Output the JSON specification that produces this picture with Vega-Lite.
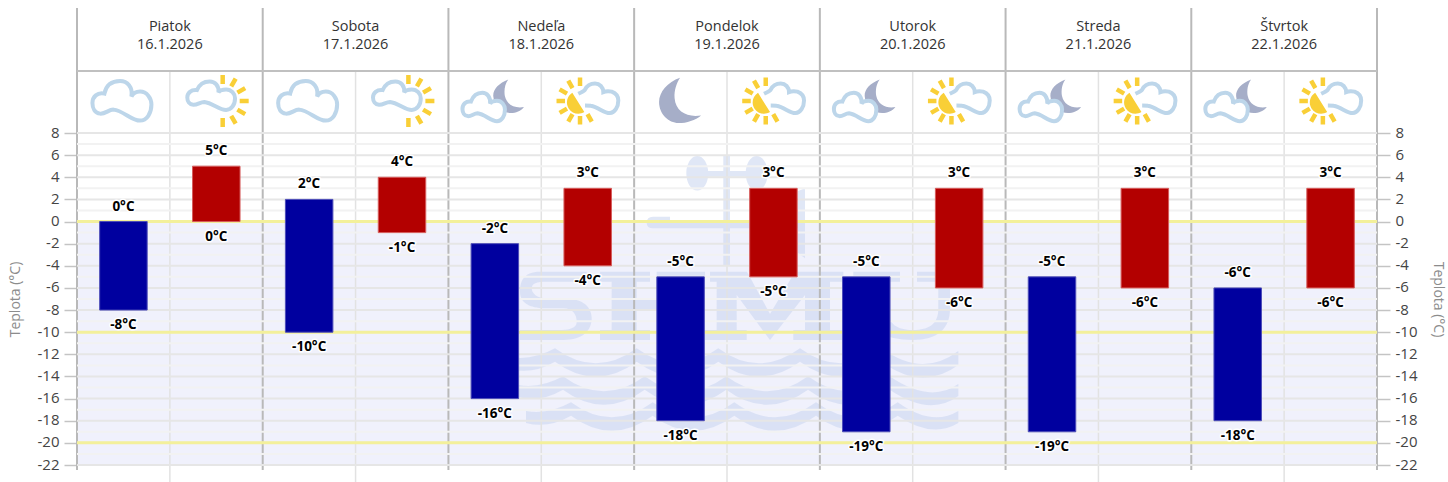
{
  "$schema": "https://vega.github.io/schema/vega-lite/v6.json",
  "autosize": "none",
  "width": 1300,
  "height": 332,
  "padding": {"left": 77, "top": 133, "right": 71, "bottom": 17},
  "background": "white",
  "datasets": {
    "bars": [
      {"slot": 0.5, "period": "noc", "max": 0, "min": -8, "maxLabel": "0°C", "minLabel": "-8°C"},
      {"slot": 1.5, "period": "den", "max": 5, "min": 0, "maxLabel": "5°C", "minLabel": "0°C"},
      {"slot": 2.5, "period": "noc", "max": 2, "min": -10, "maxLabel": "2°C", "minLabel": "-10°C"},
      {"slot": 3.5, "period": "den", "max": 4, "min": -1, "maxLabel": "4°C", "minLabel": "-1°C"},
      {"slot": 4.5, "period": "noc", "max": -2, "min": -16, "maxLabel": "-2°C", "minLabel": "-16°C"},
      {"slot": 5.5, "period": "den", "max": 3, "min": -4, "maxLabel": "3°C", "minLabel": "-4°C"},
      {"slot": 6.5, "period": "noc", "max": -5, "min": -18, "maxLabel": "-5°C", "minLabel": "-18°C"},
      {"slot": 7.5, "period": "den", "max": 3, "min": -5, "maxLabel": "3°C", "minLabel": "-5°C"},
      {"slot": 8.5, "period": "noc", "max": -5, "min": -19, "maxLabel": "-5°C", "minLabel": "-19°C"},
      {"slot": 9.5, "period": "den", "max": 3, "min": -6, "maxLabel": "3°C", "minLabel": "-6°C"},
      {"slot": 10.5, "period": "noc", "max": -5, "min": -19, "maxLabel": "-5°C", "minLabel": "-19°C"},
      {"slot": 11.5, "period": "den", "max": 3, "min": -6, "maxLabel": "3°C", "minLabel": "-6°C"},
      {"slot": 12.5, "period": "noc", "max": -6, "min": -18, "maxLabel": "-6°C", "minLabel": "-18°C"},
      {"slot": 13.5, "period": "den", "max": 3, "min": -6, "maxLabel": "3°C", "minLabel": "-6°C"}
    ],
    "days": [
      {"mid": 1, "name": "Piatok", "date": "16.1.2026"},
      {"mid": 3, "name": "Sobota", "date": "17.1.2026"},
      {"mid": 5, "name": "Nedeľa", "date": "18.1.2026"},
      {"mid": 7, "name": "Pondelok", "date": "19.1.2026"},
      {"mid": 9, "name": "Utorok", "date": "20.1.2026"},
      {"mid": 11, "name": "Streda", "date": "21.1.2026"},
      {"mid": 13, "name": "Štvrtok", "date": "22.1.2026"}
    ],
    "dayLines": [{"h": 0}, {"h": 2}, {"h": 4}, {"h": 6}, {"h": 8}, {"h": 10}, {"h": 12}, {"h": 14}],
    "halfLines": [{"h": 1}, {"h": 3}, {"h": 5}, {"h": 7}, {"h": 9}, {"h": 11}, {"h": 13}],
    "grid": [
      {"t": 8, "kind": "major"}, {"t": 7, "kind": "minor"}, {"t": 6, "kind": "major"}, {"t": 5, "kind": "minor"},
      {"t": 4, "kind": "major"}, {"t": 3, "kind": "minor"}, {"t": 2, "kind": "major"}, {"t": 1, "kind": "minor"},
      {"t": 0, "kind": "major"}, {"t": -1, "kind": "minor"}, {"t": -2, "kind": "major"}, {"t": -3, "kind": "minor"},
      {"t": -4, "kind": "major"}, {"t": -5, "kind": "minor"}, {"t": -6, "kind": "major"}, {"t": -7, "kind": "minor"},
      {"t": -8, "kind": "major"}, {"t": -9, "kind": "minor"}, {"t": -10, "kind": "major"}, {"t": -11, "kind": "minor"},
      {"t": -12, "kind": "major"}, {"t": -13, "kind": "minor"}, {"t": -14, "kind": "major"}, {"t": -15, "kind": "minor"},
      {"t": -16, "kind": "major"}, {"t": -17, "kind": "minor"}, {"t": -18, "kind": "major"}, {"t": -19, "kind": "minor"},
      {"t": -20, "kind": "major"}, {"t": -21, "kind": "minor"}, {"t": -22, "kind": "major"}
    ],
    "limits": [{"t": 0}, {"t": -10}, {"t": -20}],
    "fills": [
      {"slot": 4.5, "part": "moonSmall"}, {"slot": 6.5, "part": "moonBig"},
      {"slot": 8.5, "part": "moonSmall"}, {"slot": 10.5, "part": "moonSmall"}, {"slot": 12.5, "part": "moonSmall"},
      {"slot": 5.5, "part": "sunDisc"}, {"slot": 7.5, "part": "sunDisc"}, {"slot": 9.5, "part": "sunDisc"},
      {"slot": 11.5, "part": "sunDisc"}, {"slot": 13.5, "part": "sunDisc"}
    ],
    "clouds": [
      {"slot": 0.5, "part": "cloudBig"}, {"slot": 1.5, "part": "cloudLeft"}, {"slot": 2.5, "part": "cloudBig"}, {"slot": 3.5, "part": "cloudLeft"},
      {"slot": 4.5, "part": "cloudNight"}, {"slot": 5.5, "part": "cloudRight"}, {"slot": 7.5, "part": "cloudRight"},
      {"slot": 8.5, "part": "cloudNight"}, {"slot": 9.5, "part": "cloudRight"}, {"slot": 10.5, "part": "cloudNight"},
      {"slot": 11.5, "part": "cloudRight"}, {"slot": 12.5, "part": "cloudNight"}, {"slot": 13.5, "part": "cloudRight"}
    ],
    "rays": [
      {"slot": 1.5, "part": "raysRight"}, {"slot": 3.5, "part": "raysRight"},
      {"slot": 5.5, "part": "raysLeft"}, {"slot": 7.5, "part": "raysLeft"}, {"slot": 9.5, "part": "raysLeft"},
      {"slot": 11.5, "part": "raysLeft"}, {"slot": 13.5, "part": "raysLeft"}
    ]
  },
  "resolve": {
    "axis": {"y": "independent"},
    "scale": {"color": "independent", "stroke": "independent", "shape": "independent", "fillOpacity": "independent"}
  },
  "layer": [
    {
      "data": {"values": [{"top": 0, "bottom": -22}]},
      "mark": {"type": "rect", "color": "#f0f1fc"},
      "encoding": {
        "y": {"field": "top", "type": "quantitative", "axis": null, "scale": {"domain": [-22, 8], "nice": false, "zero": false}},
        "y2": {"field": "bottom"}
      }
    },
    {
      "data": {"values": [{"logo": "SHMU"}]},
      "mark": {"type": "point", "filled": true, "size": 4, "color": "#ccd7f0", "opacity": 0.6, "strokeWidth": 0},
      "encoding": {
        "x": {"datum": 7, "type": "quantitative", "axis": null, "scale": {"domain": [0, 14], "nice": false, "zero": false, "padding": 0}},
        "y": {"datum": -7, "type": "quantitative", "axis": null},
        "shape": {"field": "logo", "type": "nominal", "legend": null, "scale": {"domain": ["SHMU"], "range": ["M-140.3,-27.3 L-187,-27.3 C-203.7,-27.3 -207,-17.3 -207,-7.3 C-207,6 -193.7,9.3 -180.3,9.3 L-163.7,9.3 C-153.7,9.3 -150.3,16 -150.3,22.7 C-150.3,29.3 -157,31 -170.3,31 L-207,31 L-207,41 L-163.7,41 C-143.7,41 -135.3,31 -135.3,19.3 C-135.3,6 -147,-.7 -163.7,-.7 L-180.3,-.7 C-190.3,-.7 -195.3,-5.7 -195.3,-10.7 C-195.3,-15.7 -190.3,-17.3 -180.3,-17.3 L-140.3,-17.3 Z M-127,-27.3 H-77 V-17.3 H-90.3 V1 H-58.7 V-17.3 H-70.3 V-27.3 H-22 V-17.3 H-33.7 V31 H-22 V41 H-70.3 V31 H-58.7 V11 H-90.3 V31 H-77 V41 H-127 V31 H-115.3 V-17.3 H-127 Z M-17,-27.3 H20 L43,15 L68,-27.3 H116.3 V-17.3 H103 V31 H116.3 V41 H66.3 V31 H78 V-4 L43,41 L9.7,-4 V31 H19.7 V41 H-22 V31 H-10.3 V-17.3 H-17 Z M126.3,-27.3 H173 V-17.3 H161 V10 C161,25 170,31 186,31 C202,31 211.3,25 211.3,10 V-17.3 H190 V-27.3 H233 V-17.3 H223 V10 C223,30 210,41 186,41 C158,41 136.3,30 136.3,10 V-17.3 H126.3 Z M-217,58 Q-195,62 -172,49.3 Q-131.3,79.3 -90.3,49.3 Q-49.7,79.3 -8.7,49.3 Q32,79.3 73,49.3 Q113.7,79.3 154.7,49.3 Q195.3,79.3 231.3,52 L231.3,66 Q195.3,92.7 154.7,62.7 Q113.7,92.7 73,62.7 Q32,92.7 -8.7,62.7 Q-49.7,92.7 -90.3,62.7 Q-131.3,92.7 -172,62.7 Q-195,76 -217,70 Z M-209,86 Q-187,90 -164,77.3 Q-123.3,107.3 -82.3,77.3 Q-41.7,107.3 -.7,77.3 Q40,107.3 81,77.3 Q121.7,107.3 162.7,77.3 Q203,105 231.3,85 L231.3,97 Q203,118 162.7,90.7 Q121.7,120.7 81,90.7 Q40,120.7 -.7,90.7 Q-41.7,120.7 -82.3,90.7 Q-123.3,120.7 -164,90.7 Q-187,104 -209,98 Z M-201,112 Q-179,116 -156,103.3 Q-115.3,133.3 -74.3,103.3 Q-33.7,133.3 7.3,103.3 Q48,133.3 89,103.3 Q129.7,133.3 170.7,103.3 Q205,128 231.3,112 L231.3,124 Q205,140 170.7,116.7 Q129.7,146.7 89,116.7 Q48,146.7 7.3,116.7 Q-33.7,146.7 -74.3,116.7 Q-115.3,146.7 -156,116.7 Q-179,130 -201,124 Z M-40.7,-125.7 A11,17.3 0 1 1 -18.7,-125.7 A11,17.3 0 1 1 -40.7,-125.7 Z M18.7,-125.7 A11,17.3 0 1 1 40.7,-125.7 A11,17.3 0 1 1 18.7,-125.7 Z M-30,-128 H30 V-122.3 H-30 Z M-3.7,-144 H3 V-34 H-3.7 Z M-80.3,-76 Q-80.3,-82.3 -74,-82.3 H-57 V-76.7 H71 V-70.7 H-74 Q-80.3,-70.7 -80.3,-76 Z M71,-108 L78,-110.7 V-40.7 L71,-46 Z"]}}
      }
    },
    {
      "data": {"name": "halfLines"},
      "mark": {"type": "rule", "color": "#e2e2e2", "strokeWidth": 1.5},
      "encoding": {
        "x": {"field": "h", "type": "quantitative", "axis": null},
        "y": {"datum": 13.6, "type": "quantitative", "axis": null},
        "y2": {"datum": -23.54}
      }
    },
    {
      "data": {"name": "dayLines"},
      "mark": {"type": "rule", "color": "#b9b9b9", "strokeWidth": 2},
      "encoding": {
        "x": {"field": "h", "type": "quantitative", "axis": null},
        "y": {"datum": 19.3, "type": "quantitative", "axis": null},
        "y2": {"datum": -22.45}
      }
    },
    {
      "data": {"name": "grid"},
      "mark": {"type": "rule", "strokeWidth": 2},
      "encoding": {
        "y": {
          "field": "t",
          "type": "quantitative",
          "title": "Teplota (°C)",
          "axis": {
            "orient": "left",
            "values": [8, 6, 4, 2, 0, -2, -4, -6, -8, -10, -12, -14, -16, -18, -20, -22],
            "labelExpr": "'' + datum.value",
            "grid": false,
            "domain": false,
            "tickSize": 13,
            "tickWidth": 1.5,
            "tickColor": "#c4c4c4",
            "labelPadding": 5,
            "labelOffset": -1,
            "labelFont": "Open Sans",
            "labelFontSize": 15,
            "labelColor": "#444444",
            "titleFont": "Open Sans",
            "titleFontSize": 14,
            "titleFontWeight": "normal",
            "titleColor": "#8c8c8c",
            "titlePadding": 15
          }
        },
        "color": {"field": "kind", "type": "nominal", "legend": null, "scale": {"domain": ["major", "minor"], "range": ["#e6e6e6", "#f2f2f2"]}}
      }
    },
    {
      "data": {"name": "limits"},
      "mark": {"type": "rule", "color": "#f3f09b", "strokeWidth": 3},
      "encoding": {
        "y": {
          "field": "t",
          "type": "quantitative",
          "title": "Teplota (°C)",
          "axis": {
            "orient": "right",
            "values": [8, 6, 4, 2, 0, -2, -4, -6, -8, -10, -12, -14, -16, -18, -20, -22],
            "labelExpr": "'' + datum.value",
            "grid": false,
            "domain": false,
            "tickSize": 13,
            "tickWidth": 1.5,
            "tickColor": "#c4c4c4",
            "labelPadding": 5,
            "labelOffset": -1,
            "labelFont": "Open Sans",
            "labelFontSize": 15,
            "labelColor": "#444444",
            "titleFont": "Open Sans",
            "titleFontSize": 14,
            "titleFontWeight": "normal",
            "titleColor": "#8c8c8c",
            "titlePadding": 14
          }
        }
      }
    },
    {
      "data": {"values": [{"line": "hlavička"}]},
      "mark": {"type": "rule", "color": "#c0c0c0", "strokeWidth": 2},
      "encoding": {"y": {"datum": 13.6, "type": "quantitative", "axis": null}}
    },
    {
      "data": {"name": "bars"},
      "mark": {"type": "bar", "size": 47.5, "strokeWidth": 1},
      "encoding": {
        "x": {"field": "slot", "type": "quantitative", "axis": null},
        "y": {"field": "max", "type": "quantitative", "axis": null},
        "y2": {"field": "min"},
        "color": {"field": "period", "type": "nominal", "legend": null, "scale": {"domain": ["noc", "den"], "range": ["#00009f", "#b30000"]}},
        "stroke": {"field": "period", "type": "nominal", "legend": null, "scale": {"domain": ["noc", "den"], "range": ["#4d4db8", "#d65c5c"]}}
      }
    },
    {
      "data": {"name": "bars"},
      "mark": {"type": "text", "font": "Open Sans", "fontWeight": "bold", "fontSize": 13.5, "dy": -15, "stroke": "white", "strokeWidth": 3, "strokeJoin": "round", "color": "white"},
      "encoding": {
        "x": {"field": "slot", "type": "quantitative", "axis": null},
        "y": {"field": "max", "type": "quantitative", "axis": null},
        "text": {"field": "maxLabel"}
      }
    },
    {
      "data": {"name": "bars"},
      "mark": {"type": "text", "font": "Open Sans", "fontWeight": "bold", "fontSize": 13.5, "dy": 15, "stroke": "white", "strokeWidth": 3, "strokeJoin": "round", "color": "white"},
      "encoding": {
        "x": {"field": "slot", "type": "quantitative", "axis": null},
        "y": {"field": "min", "type": "quantitative", "axis": null},
        "text": {"field": "minLabel"}
      }
    },
    {
      "data": {"name": "bars"},
      "mark": {"type": "text", "font": "Open Sans", "fontWeight": "bold", "fontSize": 13.5, "dy": -15, "color": "black"},
      "encoding": {
        "x": {"field": "slot", "type": "quantitative", "axis": null},
        "y": {"field": "max", "type": "quantitative", "axis": null},
        "text": {"field": "maxLabel"}
      }
    },
    {
      "data": {"name": "bars"},
      "mark": {"type": "text", "font": "Open Sans", "fontWeight": "bold", "fontSize": 13.5, "dy": 15, "color": "black"},
      "encoding": {
        "x": {"field": "slot", "type": "quantitative", "axis": null},
        "y": {"field": "min", "type": "quantitative", "axis": null},
        "text": {"field": "minLabel"}
      }
    },
    {
      "data": {"name": "days"},
      "mark": {"type": "text", "font": "Open Sans", "fontSize": 14.5, "color": "#333333"},
      "encoding": {
        "x": {"field": "mid", "type": "quantitative", "axis": null},
        "y": {"datum": 17.58, "type": "quantitative", "axis": null},
        "text": {"field": "name"}
      }
    },
    {
      "data": {"name": "days"},
      "mark": {"type": "text", "font": "Open Sans", "fontSize": 14.5, "color": "#333333"},
      "encoding": {
        "x": {"field": "mid", "type": "quantitative", "axis": null},
        "y": {"datum": 15.95, "type": "quantitative", "axis": null},
        "text": {"field": "date"}
      }
    },
    {
      "data": {"name": "fills"},
      "mark": {"type": "point", "filled": true, "size": 4, "opacity": 1, "strokeWidth": 0},
      "encoding": {
        "x": {"field": "slot", "type": "quantitative", "axis": null},
        "y": {"datum": 10.7, "type": "quantitative", "axis": null},
        "color": {"field": "part", "type": "nominal", "legend": null, "scale": {"domain": ["moonSmall", "moonBig", "sunDisc"], "range": ["#a6aec8", "#a6aec8", "#f9cf37"]}},
        "shape": {"field": "part", "type": "nominal", "legend": null, "scale": {"domain": ["moonSmall", "moonBig", "sunDisc"], "range": [
          "M13.4,-23.7 C4,-20 -2,-14 -1.6,-7 C-1,4 8,10 16,10 C21,10 26,8 29.1,4 C20,5.5 12,2 10,-7 C9,-13 10,-19 13.4,-23.7 Z",
          "M-0.5,-25.3 C-13,-21 -21.5,-11 -21.5,-1 C-21.5,11 -12,20 -2,20 C6,20 15,17 20.5,12.3 C7,14.5 -5,9 -6,-5 C-6.5,-13 -4,-20 -0.5,-25.3 Z",
          "M-15.4,-10.3 A11.3,11.3 0 0 0 -3.4,9 Z"
        ]}}
      }
    },
    {
      "data": {"name": "clouds"},
      "mark": {"type": "point", "size": 4, "opacity": 1, "strokeWidth": 4, "stroke": "#bdd6ea", "fill": "white", "fillOpacity": 1},
      "encoding": {
        "x": {"field": "slot", "type": "quantitative", "axis": null},
        "y": {"datum": 10.7, "type": "quantitative", "axis": null},
        "fillOpacity": {"field": "part", "type": "nominal", "legend": null, "scale": {"domain": ["cloudBig", "cloudLeft", "cloudNight", "cloudRight"], "range": [1, 1, 1, 0]}},
        "shape": {"field": "part", "type": "nominal", "legend": null, "scale": {"domain": ["cloudBig", "cloudLeft", "cloudNight", "cloudRight"], "range": [
          "M-19,-9.5 C-17,-19 -10,-22 -3.4,-22 C4,-22 9.5,-16 8,-6.5 C10,-10.5 13,-11.5 16.6,-11.5 C23.5,-11.5 28,-5 28,1.5 C28,10 23.5,17.5 16.6,17.5 C8,17.5 0,7.5 -10,6.5 C-15,6.5 -18,11 -23.4,10.5 C-28.5,10 -31,5 -31,0 C-31,-6.5 -26,-11 -19,-9.5 Z",
          "M-19.4,-13 C-16.9,-18.9 -12,-21.7 -6.6,-21.7 C-1.3,-21.7 2.8,-17.4 2.2,-10.8 C3.6,-13 6,-13.7 9.8,-13.7 C15,-13.7 18.75,-9.3 18.75,-4.9 C18.75,1.8 15,6.8 9.8,6.8 C2.8,6.8 -3.8,-.4 -12,-1.2 C-16.1,-1.2 -18.6,1.8 -23,1.65 C-26.8,1.4 -29,-1.9 -29,-5.6 C-29,-10 -25.1,-13.7 -19.4,-13 Z",
          "M-23.9,-1.6 C-21.7,-7.5 -17.3,-10.3 -12.5,-10.3 C-7.8,-10.3 -4.2,-6 -4.7,.6 C-3.4,-1.6 -1.2,-2.3 2.1,-2.3 C6.8,-2.3 10.1,2.1 10.1,6.5 C10.1,13.2 6.8,18.2 2.1,18.2 C-4.2,18.2 -10,11 -17.3,10.2 C-21,10.2 -23.1,13.2 -27.1,13 C-30.4,12.8 -32.4,9.5 -32.4,5.8 C-32.4,1.4 -29,-2.3 -23.9,-1.6 Z",
          "M-9.4,-9.3 C-6,-11 -4,-12 -3,-13 C-1,-17 3,-19.5 7.3,-19.5 C12,-19.5 15.5,-16 15.6,-11 C18,-12 21,-12 24,-11.5 C28,-10 30.6,-7 30.6,-2.7 C30.6,4 27,9.5 22,10 C16,10 11,4 3,2.7 C1,2.3 -1,2.3 -2.7,2.3"
        ]}}
      }
    },
    {
      "data": {"name": "rays"},
      "mark": {"type": "point", "size": 4, "opacity": 1, "strokeWidth": 4.5, "stroke": "#f9cf37", "fill": null},
      "encoding": {
        "x": {"field": "slot", "type": "quantitative", "axis": null},
        "y": {"datum": 10.7, "type": "quantitative", "axis": null},
        "shape": {"field": "part", "type": "nominal", "legend": null, "scale": {"domain": ["raysRight", "raysLeft"], "range": [
          "M23.4,-2 L32.4,-2 M21.1,-10.5 L28.9,-15 M21.1,6.5 L28.9,11 M14.9,-16.7 L19.4,-24.5 M14.9,12.7 L19.4,20.5 M6.4,-19 L6.4,-28 M6.4,15 L6.4,24",
          "M-22.7,-2 L-31.2,-2 M-20.7,-9.5 L-28.1,-13.75 M-20.7,5.5 L-28.1,9.75 M-15.2,-15 L-19.45,-22.4 M-15.2,11 L-19.45,18.4 M-7.7,-17 L-7.7,-25.5 M-7.7,13 L-7.7,21.5 M-.2,11 L4.05,18.4"
        ]}}
      }
    }
  ],
  "config": {"view": {"stroke": null}}
}
